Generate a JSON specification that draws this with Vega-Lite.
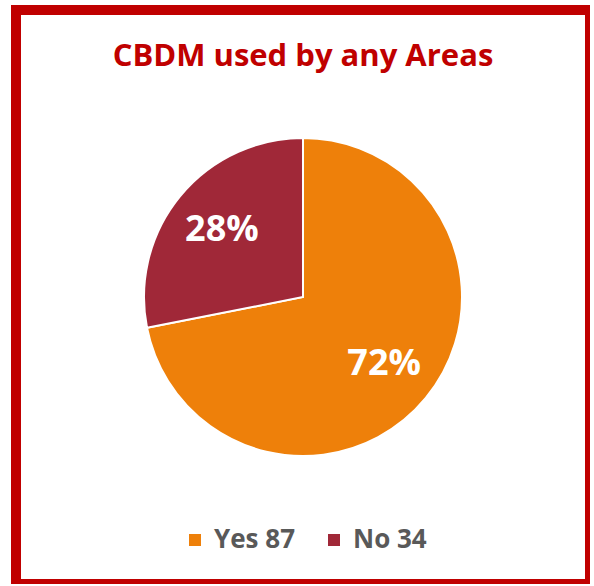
{
  "$schema": "https://vega.github.io/schema/vega-lite/v6.json",
  "autosize": {"type": "none"},
  "padding": {"left": 16, "top": 10, "right": 0, "bottom": 0},
  "width": 574,
  "height": 574,
  "background": "white",
  "view": {"stroke": "#C00000", "strokeWidth": 10, "fill": "white"},
  "title": {
    "text": "CBDM used by any Areas",
    "font": "Open Sans",
    "fontSize": 31,
    "fontWeight": "bold",
    "color": "#C00000",
    "anchor": "middle",
    "baseline": "alphabetic",
    "offset": -53,
    "dy": 34
  },
  "data": {
    "values": [
      {"cat": "Yes 87", "value": 87, "label": "72%"},
      {"cat": "No 34", "value": 34, "label": "28%"}
    ]
  },
  "encoding": {
    "theta": {"field": "value", "type": "quantitative", "stack": true},
    "order": {"field": "value", "type": "quantitative", "sort": "descending"},
    "color": {
      "field": "cat",
      "type": "nominal",
      "scale": {"domain": ["Yes 87", "No 34"], "range": ["#EE800A", "#A02838"]},
      "legend": {
        "title": null,
        "orient": "none",
        "direction": "horizontal",
        "legendX": 166,
        "legendY": 517,
        "padding": 0,
        "symbolType": "square",
        "symbolSize": 144,
        "symbolStrokeWidth": 0,
        "symbolOpacity": 1,
        "labelFont": "Open Sans",
        "labelFontSize": 26,
        "labelFontWeight": "bold",
        "labelColor": "#595959",
        "labelOffset": 6,
        "columnPadding": 26,
        "labelLimit": 300
      }
    }
  },
  "layer": [
    {
      "mark": {"type": "arc", "outerRadius": 159, "stroke": "white", "strokeWidth": 2}
    },
    {
      "mark": {
        "type": "text",
        "radius": 105,
        "font": "Open Sans",
        "fontSize": 36,
        "fontWeight": "bold",
        "color": "white",
        "baseline": "middle",
        "align": "center"
      },
      "encoding": {
        "text": {"field": "label", "type": "nominal"},
        "color": {"value": "white"}
      }
    }
  ]
}
